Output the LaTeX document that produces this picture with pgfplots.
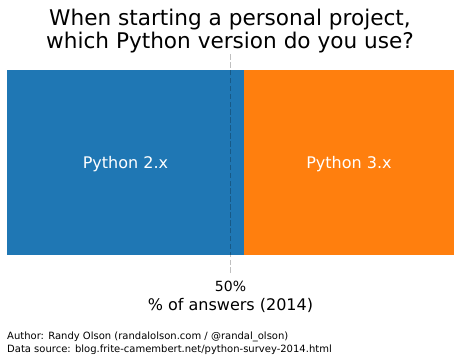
\documentclass[border=0pt]{standalone}
\usepackage{pgfplots}
\pgfplotsset{compat=1.18}
\usepackage{fontspec}
\setmainfont{DejaVu Sans}
\definecolor{mplblue}{HTML}{1F77B4}
\definecolor{mplorange}{HTML}{FF7F0E}
\begin{document}
\begin{tikzpicture}
\useasboundingbox (-7bp,-104bp) rectangle (453bp,255bp);
\begin{axis}[
  scale only axis,
  width=447bp, height=185bp,
  xmin=0, xmax=100, ymin=0.5, ymax=1.5,
  xbar stacked, bar width=185bp,
  axis line style={draw=none},
  ytick=\empty,
  xtick={50}, xticklabels={50\%},
  major tick length=0pt,
  xticklabel style={font=\fontsize{14bp}{16bp}\selectfont, anchor=base, yshift=-36bp},
  xlabel={\% of answers (2014)},
  xlabel style={font=\fontsize{16bp}{19bp}\selectfont, anchor=base, at={(axis description cs:0.5,0)}, yshift=-55bp},
  clip=false,
]
\addplot[fill=mplblue, draw=none] coordinates {(53,1)};
\addplot[fill=mplorange, draw=none] coordinates {(47,1)};
\coordinate (vlb) at (axis cs:50,0.403);
\coordinate (vlt) at (axis cs:50,1.597);
\coordinate (lab2) at (axis cs:26.5,1);
\coordinate (lab3) at (axis cs:76.5,1);
\end{axis}
\draw[black, opacity=0.25, line width=1bp, dash pattern=on 5.5bp off 2.4bp] (vlb) -- (vlt);
\node[white, font=\fontsize{16bp}{19bp}\selectfont, yshift=-2bp] at (lab2) {Python 2.x};
\node[white, font=\fontsize{16bp}{19bp}\selectfont, yshift=-2bp] at (lab3) {Python 3.x};
\node[anchor=base, font=\fontsize{21.6bp}{26bp}\selectfont, inner sep=0pt] at (223bp,229bp) {When starting a personal project,};
\node[anchor=base, font=\fontsize{21.6bp}{26bp}\selectfont, inner sep=0pt] at (223bp,206bp) {which Python version do you use?};
\node[anchor=base west, font=\fontsize{10bp}{12bp}\selectfont, inner sep=0pt] at (0bp,-84bp) {Author: Randy Olson (randalolson.com / @randal\_olson)};
\node[anchor=base west, font=\fontsize{10bp}{12bp}\selectfont, inner sep=0pt] at (0bp,-97bp) {Data source: blog.frite-camembert.net/python-survey-2014.html};
\end{tikzpicture}
\end{document}
